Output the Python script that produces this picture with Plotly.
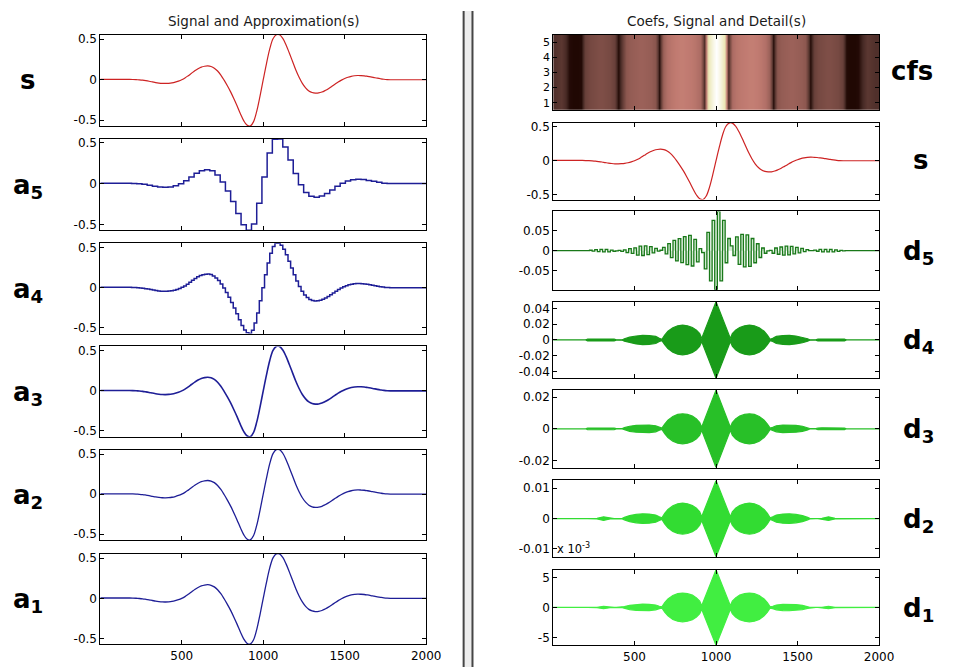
import plotly.graph_objects as go

W, H = 958, 669


def px(x):
    return x / W


def py(y):
    return 1 - y / H


FONT = "DejaVu Sans, Liberation Sans, Arial, sans-serif"

# ---------------- data ----------------
sig_x = list(range(0, 2001, 20))
sig_y = [0.004, 0.004, 0.004, 0.004, 0.004, 0.004, 0.004, 0.004, 0.004, 0.004,
         0.003, 0.001, -0.002, -0.006, -0.012, -0.019, -0.027, -0.035, -0.041, -0.045,
         -0.046, -0.044, -0.039, -0.030, -0.017, 0.000, 0.022, 0.050, 0.080, 0.110,
         0.135, 0.155, 0.166, 0.170, 0.163, 0.143, 0.108, 0.058, -0.005, -0.075,
         -0.150, -0.235, -0.325, -0.420, -0.505, -0.560, -0.572, -0.520, -0.390, -0.205,
         0.000, 0.200, 0.380, 0.505, 0.555, 0.555, 0.510, 0.430, 0.330, 0.225,
         0.120, 0.030, -0.045, -0.100, -0.138, -0.158, -0.165, -0.163, -0.152, -0.133,
         -0.110, -0.083, -0.055, -0.028, -0.005, 0.015, 0.031, 0.042, 0.049, 0.052,
         0.051, 0.048, 0.042, 0.035, 0.027, 0.019, 0.012, 0.006, 0.002, 0.000,
         0.000, 0.000, 0.000, 0.000, 0.000, 0.000, 0.000, 0.000, 0.000, 0.000, 0.000]

# approximation a5 : one value per block of 32 samples
a5_vals = [0.004, 0.004, 0.004, 0.004, 0.004, 0.004, 0.002, -0.002, -0.0095, -0.021,
           -0.033, -0.0425, -0.0455, -0.041, -0.027, -0.003, 0.033, 0.080, 0.125, 0.1565,
           0.169, 0.155, 0.1055, 0.0205, -0.0905, -0.2185, -0.363, -0.499, -0.5675, -0.49,
           -0.24, 0.08, 0.3725, 0.5375, 0.542, 0.444, 0.288, 0.123, -0.015, -0.107,
           -0.1535, -0.1645, -0.1505, -0.119, -0.077, -0.0335, 0.003, 0.0305, 0.0465, 0.052,
           0.0485, 0.039, 0.027, 0.015, 0.005, 0.0005, 0.0, 0.0, 0.0, 0.0,
           0.0, 0.0, 0.0]

# approximation a4 : one value per block of 16 samples
a4_vals = [0.004, 0.004, 0.004, 0.004, 0.004, 0.004, 0.004, 0.004, 0.004, 0.004,
           0.004, 0.004, 0.003, 0.001, -0.001, -0.003, -0.007, -0.012, -0.018, -0.024,
           -0.030, -0.036, -0.041, -0.044, -0.046, -0.045, -0.043, -0.039, -0.032, -0.022,
           -0.010, 0.004, 0.022, 0.044, 0.068, 0.092, 0.115, 0.135, 0.151, 0.162,
           0.168, 0.170, 0.163, 0.147, 0.122, 0.088, 0.045, -0.005, -0.061, -0.120,
           -0.184, -0.253, -0.325, -0.401, -0.471, -0.527, -0.562, -0.572, -0.530, -0.442,
           -0.316, -0.164, 0.000, 0.160, 0.308, 0.430, 0.515, 0.555, 0.555, 0.528,
           0.478, 0.410, 0.330, 0.246, 0.162, 0.084, 0.015, -0.045, -0.090, -0.124,
           -0.147, -0.160, -0.165, -0.164, -0.157, -0.144, -0.128, -0.110, -0.088, -0.066,
           -0.044, -0.023, -0.005, 0.011, 0.025, 0.036, 0.044, 0.049, 0.052, 0.052,
           0.050, 0.047, 0.042, 0.036, 0.030, 0.024, 0.018, 0.012, 0.007, 0.003,
           0.001, 0.0, 0.0, 0.0, 0.0, 0.0, 0.0, 0.0, 0.0, 0.0,
           0.0, 0.0, 0.0, 0.0, 0.0]

# detail d5 : first-half value of each 32-sample block (second half is opposite)
d5_vals = [0.0, 0.0, 0.0, 0.0, 0.0, 0.0, 0.0, 0.001, 0.0025, 0.003,
           0.003, 0.0015, -0.0005, -0.002, -0.005, -0.007, -0.011, -0.012, -0.010, -0.0055,
           -0.001, 0.008, 0.0175, 0.0255, 0.0295, 0.0345, 0.038, 0.028, 0.005, -0.045,
           -0.075, -0.097, -0.075, -0.030, 0.012, 0.034, 0.040, 0.039, 0.030, 0.017,
           0.0065, -0.0005, -0.0065, -0.009, -0.011, -0.0105, -0.008, -0.0055, -0.0025, 0.0,
           0.0015, 0.003, 0.003, 0.003, 0.002, 0.0005, 0.0, 0.0, 0.0, 0.0,
           0.0, 0.0, 0.0]

# envelopes of the dense details d4..d1
env_x = [0, 200, 212, 270, 310, 350, 375, 388, 425, 438, 470, 510, 550, 590, 630, 652, 668,
         685, 705, 735, 765, 795, 825, 855, 880, 900, 912, 1000, 1088, 1100, 1120, 1145,
         1175, 1205, 1235, 1265, 1295, 1315, 1332, 1348, 1370, 1410, 1450, 1490, 1530,
         1562, 1575, 1612, 1625, 1650, 1690, 1730, 1788, 1800, 2000]
d4_env = [0, 0, 0.0012, 0.0013, 0.0014, 0.0013, 0.0012, 0.0002, 0.0003, 0.0015, 0.0035,
          0.0050, 0.0058, 0.0056, 0.0045, 0.0020, 0.0008, 0.0060, 0.0110, 0.0155, 0.0180,
          0.0188, 0.0180, 0.0158, 0.0125, 0.0080, 0.0020, 0.0485,
          0.0020, 0.0080, 0.0125, 0.0158, 0.0180, 0.0188, 0.0180, 0.0155, 0.0110, 0.0060,
          0.0008, 0.0020, 0.0045, 0.0056, 0.0058, 0.0050, 0.0035, 0.0015, 0.0003, 0.0002,
          0.0012, 0.0013, 0.0014, 0.0013, 0.0012, 0, 0]
d3_env = [0, 0, 0.0005, 0.0006, 0.0006, 0.0006, 0.0005, 0.0001, 0.0001, 0.0007, 0.0016,
          0.0022, 0.0025, 0.0024, 0.0019, 0.0009, 0.0004, 0.0030, 0.0055, 0.0078, 0.0091,
          0.0095, 0.0091, 0.0080, 0.0063, 0.0040, 0.0010, 0.0245,
          0.0010, 0.0040, 0.0063, 0.0080, 0.0091, 0.0095, 0.0091, 0.0078, 0.0055, 0.0030,
          0.0004, 0.0009, 0.0019, 0.0024, 0.0025, 0.0022, 0.0016, 0.0007, 0.0001, 0.0001,
          0.0005, 0.0006, 0.0006, 0.0006, 0.0005, 0, 0]
d2_env = [0, 0, 0, 0.0001, 0.0006, 0.0001, 0, 0, 0.0001, 0.0004, 0.0010,
          0.0014, 0.0016, 0.0015, 0.0012, 0.0006, 0.0003, 0.0017, 0.0030, 0.0042, 0.0049,
          0.0051, 0.0049, 0.0043, 0.0034, 0.0022, 0.0006, 0.0126,
          0.0006, 0.0022, 0.0034, 0.0043, 0.0049, 0.0051, 0.0049, 0.0042, 0.0030, 0.0017,
          0.0003, 0.0006, 0.0012, 0.0015, 0.0016, 0.0014, 0.0010, 0.0004, 0.0001, 0,
          0, 0.0001, 0.0006, 0.0001, 0, 0, 0]
d1_env = [0, 0, 0, 0.03, 0.2, 0.03, 0, 0, 0.03, 0.15, 0.35,
          0.48, 0.55, 0.52, 0.40, 0.20, 0.10, 0.8, 1.4, 2.0, 2.3,
          2.4, 2.3, 2.05, 1.6, 1.05, 0.3, 6.3,
          0.3, 1.05, 1.6, 2.05, 2.3, 2.4, 2.3, 2.0, 1.4, 0.8,
          0.10, 0.20, 0.40, 0.52, 0.55, 0.48, 0.35, 0.15, 0.03, 0,
          0, 0.03, 0.2, 0.03, 0, 0, 0]  # units of 1e-3

# coefficient image profile on a regular grid (normalised magnitude)
cfs_x = list(range(0, 2001, 25))
cfs_v = [0.07, 0.08, 0.09, 0.06, 0.01, 0.005, 0.005, 0.01, 0.12, 0.15,
         0.16, 0.17, 0.17, 0.16, 0.15, 0.12, 0.01, 0.10, 0.21, 0.23,
         0.24, 0.25, 0.25, 0.24, 0.23, 0.20, 0.01, 0.25, 0.32, 0.35,
         0.37, 0.38, 0.38, 0.37, 0.36, 0.34, 0.30, 0.06, 0.75, 0.88,
         1.00, 0.88, 0.75, 0.06, 0.30, 0.34, 0.36, 0.37, 0.38, 0.38,
         0.37, 0.35, 0.32, 0.25, 0.01, 0.20, 0.23, 0.24, 0.25, 0.25,
         0.24, 0.23, 0.21, 0.01, 0.12, 0.15, 0.16, 0.17, 0.17, 0.16,
         0.15, 0.12, 0.01, 0.005, 0.005, 0.01, 0.06, 0.09, 0.08, 0.07,
         0.07]
cfs_levels = [1, 2, 3, 4, 5]

x_ticks = [500, 1000, 1500, 2000]

# ---------------- styles ----------------
RED = "rgb(205,35,35)"
BLUE = "rgb(30,30,150)"
GREENS = {5: "rgb(25,120,25)", 4: "rgb(25,155,25)", 3: "rgb(40,192,40)",
          2: "rgb(50,220,50)", 1: "rgb(65,238,65)"}
PINK = [[0.0, "rgb(28,4,0)"], [0.05, "rgb(68,40,35)"], [0.1, "rgb(98,60,54)"],
        [0.2, "rgb(138,86,78)"], [0.3, "rgb(172,108,100)"], [0.375, "rgb(194,124,114)"],
        [0.5, "rgb(210,168,146)"], [0.625, "rgb(224,204,165)"], [0.75, "rgb(236,232,182)"],
        [0.875, "rgb(246,244,222)"], [1.0, "rgb(255,255,255)"]]

LX = (102, 433)
RX = (562, 893)
left_rows = [(32, 124), (137, 229), (242, 333), (346, 437), (450, 541), (555, 646)]
right_rows = [(32, 108), (121, 198), (210, 289), (301, 378), (390, 468), (481, 558), (571, 647)]

fig = go.Figure()
layout = {}
ax_id = [0]


def new_axes(xdom, ydom, yrange, yvals, ytext, xlabels, fsize=12):
    ax_id[0] += 1
    i = ax_id[0]
    sx = "" if i == 1 else str(i)
    common = dict(showline=True, linecolor="black", linewidth=1, mirror="allticks",
                  ticks="inside", ticklen=4, tickcolor="black", showgrid=False,
                  zeroline=False, tickfont=dict(family=FONT, size=fsize, color="black"))
    layout["xaxis" + sx] = dict(domain=[px(xdom[0]), px(xdom[1])], anchor="y" + sx,
                                range=[1, 2000], tickvals=x_ticks,
                                ticktext=[str(v) for v in x_ticks],
                                showticklabels=xlabels, **common)
    layout["yaxis" + sx] = dict(domain=[py(ydom[1]), py(ydom[0])], anchor="x" + sx,
                                range=yrange, tickvals=yvals, ticktext=ytext, **common)
    return "x" + sx, "y" + sx, "yaxis" + sx


def sym_range(vals):
    m = max(abs(v) for v in vals)
    return [-m, m]


s_range = [min(sig_y), max(sig_y)]
half_ticks = [-0.5, 0, 0.5]
half_text = ["-0.5", "0", "0.5"]

# ---------- left column ----------
approx = [("s", None), ("a5", a5_vals), ("a4", a4_vals), ("a3", None), ("a2", None), ("a1", None)]
for r, (name, vals) in enumerate(approx):
    xa, ya, yname = new_axes(LX, left_rows[r], None, half_ticks, half_text, r == 5)
    if name == "s":
        fig.add_trace(go.Scatter(x=sig_x, y=sig_y, mode="lines", line=dict(color=RED, width=1.2, shape="spline"),
                                 xaxis=xa, yaxis=ya, showlegend=False, hoverinfo="skip"))
        rng = s_range
    elif vals is None:
        fig.add_trace(go.Scatter(x=sig_x, y=sig_y, mode="lines",
                                 line=dict(color=BLUE, width=1.6 if name == "a3" else 1.3, shape="spline"),
                                 xaxis=xa, yaxis=ya, showlegend=False, hoverinfo="skip"))
        rng = s_range
    else:
        step = 32 if name == "a5" else 16
        bx = [step * k for k in range(len(vals))] + [2000]
        by = vals + [vals[-1]]
        fig.add_trace(go.Scatter(x=bx, y=by, mode="lines", line=dict(color=BLUE, width=1.5, shape="hv"),
                                 xaxis=xa, yaxis=ya, showlegend=False, hoverinfo="skip"))
        rng = [min(vals), max(vals)]
    layout[yname]["range"] = rng

# ---------- right column ----------
# coefficients image
xa, ya, _ = new_axes(RX, right_rows[0], [0.5, 5.5], cfs_levels, [str(v) for v in cfs_levels], False, 11)
fig.add_trace(go.Heatmap(x=cfs_x, y=cfs_levels, z=[cfs_v for _ in cfs_levels], colorscale=PINK,
                         zmin=0, zmax=1, zsmooth="best", showscale=False, xaxis=xa, yaxis=ya,
                         hoverinfo="skip"))

# signal
xa, ya, _ = new_axes(RX, right_rows[1], s_range, half_ticks, half_text, False)
fig.add_trace(go.Scatter(x=sig_x, y=sig_y, mode="lines", line=dict(color=RED, width=1.2, shape="spline"),
                         xaxis=xa, yaxis=ya, showlegend=False, hoverinfo="skip"))

# d5
xa, ya, _ = new_axes(RX, right_rows[2], sym_range(d5_vals), [-0.05, 0, 0.05], ["-0.05", "0", "0.05"], False)
d5x, d5y = [], []
for k, v in enumerate(d5_vals):
    d5x += [32 * k, 32 * k + 16]
    d5y += [v, -v]
d5x.append(2000)
d5y.append(d5y[-1])
fig.add_trace(go.Scatter(x=d5x, y=d5y, mode="lines", line=dict(color=GREENS[5], width=1.3, shape="hv"),
                         fill="tozeroy", fillcolor="rgba(150,210,150,0.45)",
                         xaxis=xa, yaxis=ya, showlegend=False, hoverinfo="skip"))

dense = [
    (4, d4_env, [-0.04, -0.02, 0, 0.02, 0.04], ["-0.04", "-0.02", "0", "0.02", "0.04"]),
    (3, d3_env, [-0.02, 0, 0.02], ["-0.02", "0", "0.02"]),
    (2, d2_env, [-0.01, 0, 0.01], ["-0.01", "0", "0.01"]),
    (1, d1_env, [-5, 0, 5], ["-5", "0", "5"]),
]
for j, (lev, env, tv, tt) in enumerate(dense):
    xa, ya, _ = new_axes(RX, right_rows[3 + j], sym_range(env), tv, tt, lev == 1)
    fx = env_x + env_x[::-1]
    fy = env + [-v for v in env[::-1]]
    fig.add_trace(go.Scatter(x=fx, y=fy, mode="lines", fill="toself", fillcolor=GREENS[lev],
                             line=dict(color=GREENS[lev], width=1.2),
                             xaxis=xa, yaxis=ya, showlegend=False, hoverinfo="skip"))

# ---------- annotations ----------
ann = []


def text(t, x, y, size, xanchor="center", yanchor="middle", color="black"):
    ann.append(dict(text=t, x=px(x), y=py(y), xref="paper", yref="paper", xanchor=xanchor,
                    yanchor=yanchor, showarrow=False, font=dict(family=FONT, size=size, color=color)))


text("Signal and Approximation(s)", 268, 18, 13.5, color="#1a1a1a")
text("Coefs, Signal and Detail(s)", 728, 18, 13.5, color="#1a1a1a")

left_names = ["s", "a<sub>5</sub>", "a<sub>4</sub>", "a<sub>3</sub>", "a<sub>2</sub>", "a<sub>1</sub>"]
for r, nm in enumerate(left_names):
    yc = (left_rows[r][0] + left_rows[r][1]) / 2
    text("<b>" + nm + "</b>", 28, yc + (0 if r == 0 else 2), 26)
right_names = ["cfs", "s", "d<sub>5</sub>", "d<sub>4</sub>", "d<sub>3</sub>", "d<sub>2</sub>", "d<sub>1</sub>"]
for r, nm in enumerate(right_names):
    yc = (right_rows[r][0] + right_rows[r][1]) / 2
    xc = 926 if r == 0 else (935 if r == 1 else 933)
    text("<b>" + nm + "</b>", xc, yc + (-1 if r < 2 else 2), 26)
text("x 10<sup>-3</sup>", 564, 559, 11.5, xanchor="left", yanchor="bottom")

shapes = [
    dict(type="rect", xref="paper", yref="paper", x0=px(471), x1=px(480), y0=0, y1=py(8),
         fillcolor="#ededed", line=dict(width=0), layer="below"),
    dict(type="line", xref="paper", yref="paper", x0=px(471), x1=px(471), y0=0, y1=py(8),
         line=dict(color="#454545", width=2)),
    dict(type="line", xref="paper", yref="paper", x0=px(480), x1=px(480), y0=0, y1=py(8),
         line=dict(color="#454545", width=2)),
]

fig.update_layout(**layout)
fig.update_layout(width=W, height=H, margin=dict(l=0, r=0, t=0, b=0), paper_bgcolor="white",
                  plot_bgcolor="white", annotations=ann, shapes=shapes, showlegend=False)
fig.write_html("out.html")
